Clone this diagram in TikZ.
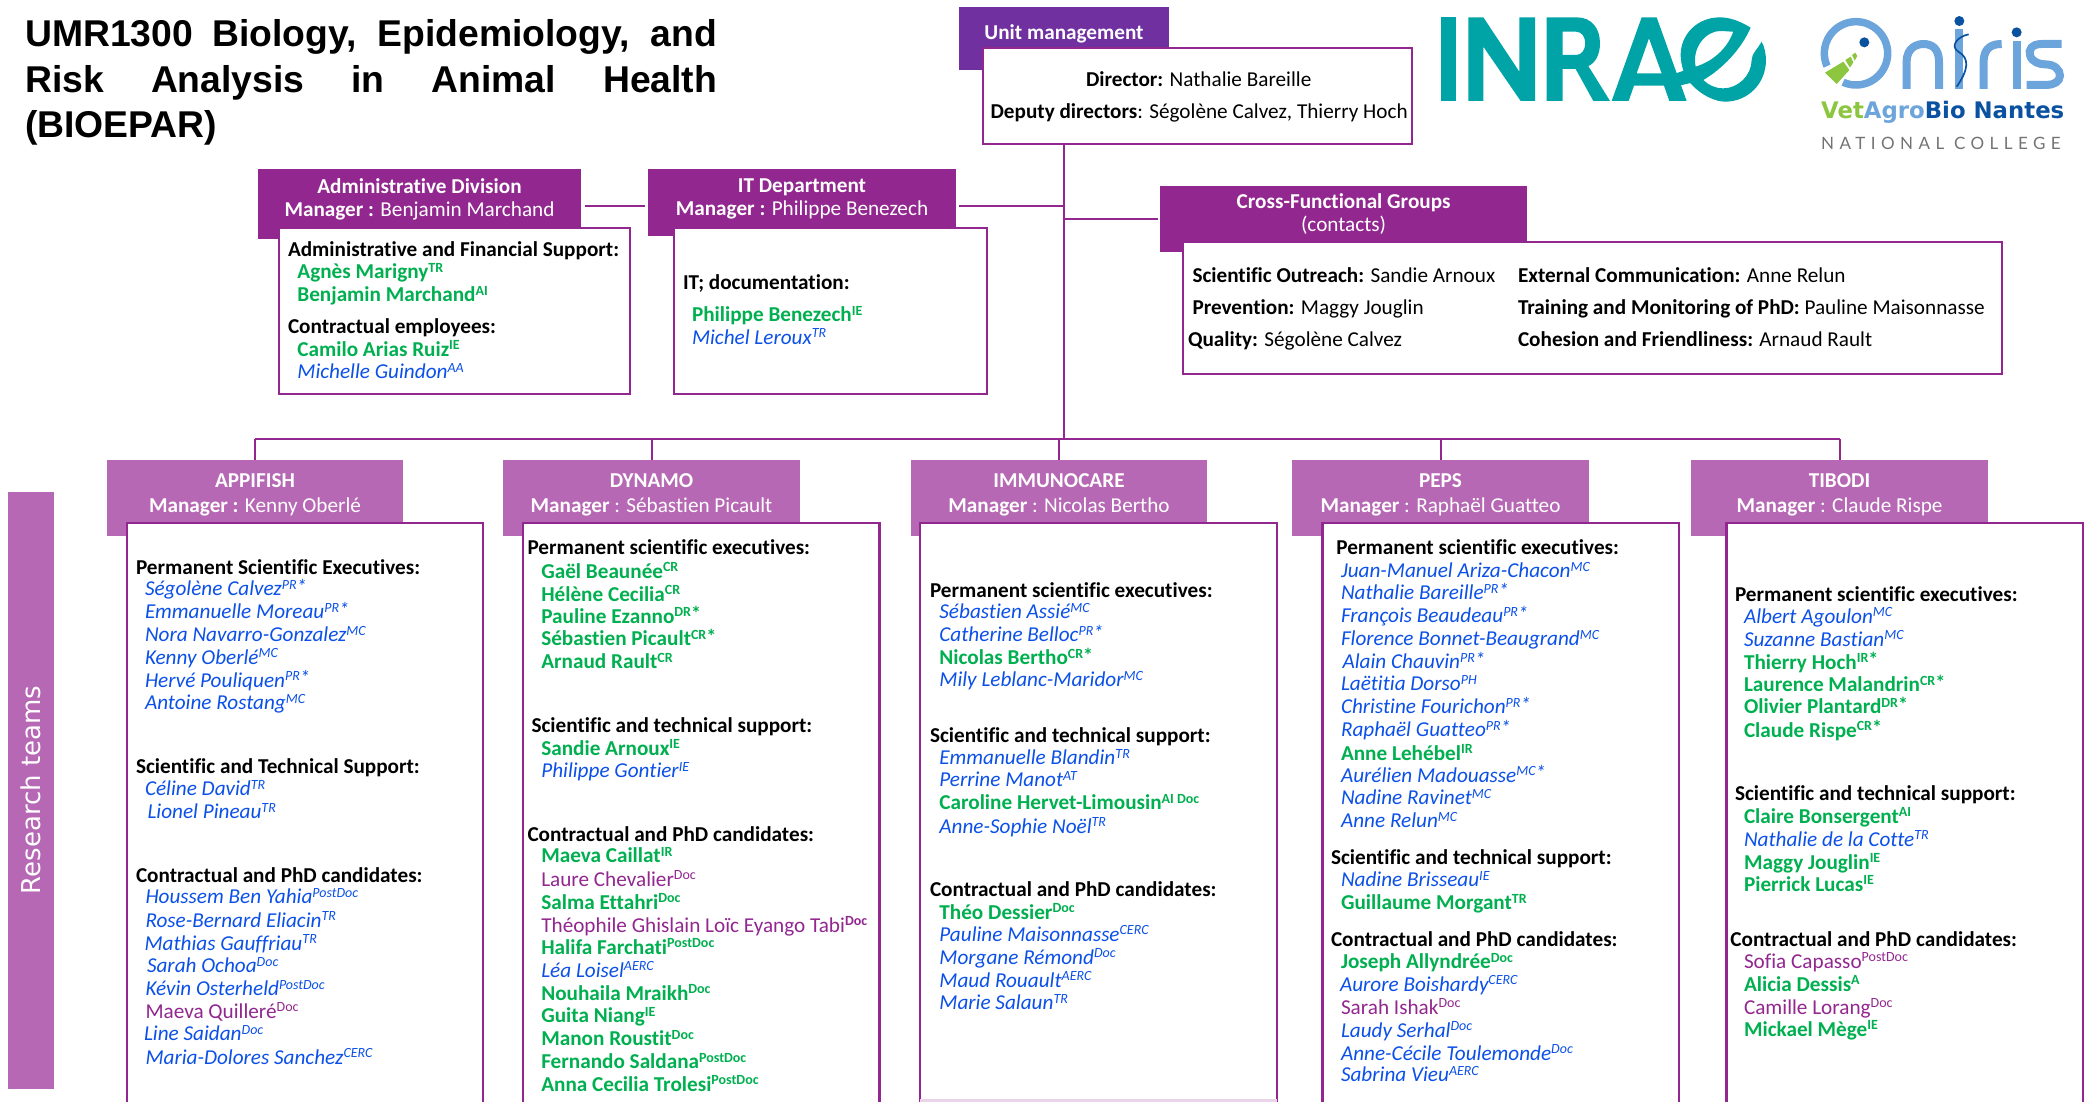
\documentclass[tikz,border=0pt]{standalone}
\usepackage{fontspec}
\setmainfont[Ligatures=NoCommon]{Carlito}
\newfontfamily\ttlfont{Liberation Sans}
\newfontfamily\rtfont{DejaVu Sans}
\newfontfamily\vabfont{DejaVu Sans}
\newfontfamily\natfont[LetterSpace=32]{Lato}
\definecolor{pdark}{HTML}{92278F}
\definecolor{plight}{HTML}{B768B5}
\definecolor{pum}{HTML}{7030A0}
\definecolor{gtext}{HTML}{00B050}
\definecolor{btext}{HTML}{0B50E8}
\definecolor{inrae}{HTML}{00A3A6}
\definecolor{onb}{HTML}{6CA4DC}
\definecolor{ond}{HTML}{0A52A0}
\definecolor{ong}{HTML}{8CC63F}
\newcounter{tn}
\newcommand\Sp[1]{\raisebox{.30em}[0pt][0pt]{\fontsize{14}{14}\selectfont #1}}
\newcommand\Str{\raisebox{-.28em}[0pt][0pt]{\fontsize{20}{20}\selectfont *}}
\newcommand\ti[4]{\stepcounter{tn}\node[#3] (t\arabic{tn}) at (#1,#2+0.8) {#4};}
\newcommand\hd[3]{\ti{#1}{#2}{bk}{#3}}
\newcommand\gn[4]{\ti{#1}{#2}{gr}{#3\Sp{#4}}}
\newcommand\bn[4]{\ti{#1}{#2}{bl}{#3\Sp{#4}}}
\newcommand\pn[4]{\ti{#1}{#2}{pu}{#3\Sp{#4}}}
\newcommand\bx[6]{\node[#1,anchor=north west,minimum width={(#5-#3)*1pt},minimum height={(#6-#4)*1pt}] (#2) at (#3,#4) {};}
\newcommand\hh[3]{\ti{#1}{#2}{wh}{#3}}
\tikzset{
 txt/.style={anchor=base west,inner sep=0pt,outer sep=0pt,font=\fontsize{21.2}{21.2}\selectfont},
 bk/.style={txt,font=\fontsize{21.2}{21.2}\selectfont\bfseries,text=black},
 plain/.style={txt,text=black},
 gr/.style={txt,font=\fontsize{21.2}{21.2}\selectfont\bfseries,text=gtext},
 bl/.style={txt,font=\fontsize{21.2}{21.2}\selectfont\itshape,text=btext},
 pu/.style={txt,text=pdark},
 wh/.style={anchor=base,inner sep=0pt,outer sep=0pt,font=\fontsize{21.2}{21.2}\selectfont,text=white},
 hbox/.style={fill=pdark,inner sep=0pt,outer sep=0pt},
 tbox/.style={fill=plight,inner sep=0pt,outer sep=0pt},
 cbox/.style={fill=white,draw=pdark,line width=2.5pt,inner sep=0pt,outer sep=0pt},
 conn/.style={draw=pdark,line width=2.5pt},
 drop/.style={draw=pdark,line width=2pt},
 ttl/.style={anchor=base west,inner sep=0pt,font=\fontsize{37.3}{37.3}\selectfont\ttlfont\bfseries},
}
\begin{document}
\begin{tikzpicture}[x=1pt,y=-1pt]
\useasboundingbox (0,0) rectangle (2089,1101);
% title
\ti{25}{46}{ttl}{\makebox[692pt][s]{UMR1300 Biology, Epidemiology, and}}
\ti{25}{91.7}{ttl}{\makebox[692pt][s]{Risk Analysis in Animal Health}}
\ti{25}{136.7}{ttl}{(BIOEPAR)}
% connector anchors
\coordinate (trunk) at (1064,439);
\coordinate (ja) at (1064,206);
\coordinate (jc) at (1064,219);
% upper boxes
\bx{fill=pum,inner sep=0pt,outer sep=0pt}{umh}{959}{7}{1169}{70}
\bx{cbox}{um}{983}{48}{1412}{144}
\bx{hbox}{adh}{258}{169}{581}{239}
\bx{cbox}{adb}{279}{228}{630}{394}
\bx{hbox}{ith}{648}{169}{956}{236}
\bx{cbox}{itb}{674}{228}{987}{394}
\bx{hbox}{crh}{1160}{186}{1526.5}{252}
\bx{cbox}{crb}{1183}{242}{2002}{374}
% team headers
\bx{tbox}{h1}{107}{460}{403}{536}
\bx{tbox}{h2}{503}{460}{800}{536}
\bx{tbox}{h3}{911}{460}{1207}{536}
\bx{tbox}{h4}{1292}{460}{1589}{536}
\bx{tbox}{h5}{1691}{460}{1988}{536}
\bx{cbox}{b1}{127}{523}{483}{1120}
\bx{cbox}{b2}{523}{523}{879.5}{1120}
\bx{cbox}{b3}{920}{523}{1277}{1120}
\bx{cbox}{b4}{1322.5}{523}{1679}{1120}
\bx{cbox}{b5}{1726.6}{523}{2083}{1120}
\draw[draw=pdark!20,line width=3pt] (b3.west |- 0,1100) -- (b3.east |- 0,1100);
% connectors
\draw[conn] (um.south -| trunk) -- (trunk);
\draw[conn] (h1.north |- trunk) -- (h5.north |- trunk);
\foreach \n in {h1,h2,h3,h4,h5}{\draw[drop] (\n.north) -- (\n.north |- trunk);}
\draw[conn] ([xshift=4pt]adh.east |- ja) -- ([xshift=-3pt]ith.west |- ja);
\draw[conn] ([xshift=3pt]ith.east |- ja) -- (ja);
\draw[conn] (jc) -- ([xshift=-2pt]crh.west |- jc);
% research teams
\bx{tbox}{rtbar}{8}{492}{54}{1089}
\node[rotate=90,inner sep=0pt,text=white,font=\fontsize{26}{26}\selectfont\rtfont] (rt) at (rtbar.center |- 0,790) {Research teams};
% headers
\hh{1064}{39}{\bfseries Unit management}
\hh{419.5}{193}{\bfseries Administrative Division}
\hh{419.5}{216}{\textbf{Manager :} Benjamin Marchand}
\hh{802}{192}{\bfseries IT Department}
\hh{802}{215}{\textbf{Manager :} Philippe Benezech}
\hh{1343.6}{207.5}{\bfseries Cross-Functional Groups}
\hh{1343.6}{231}{(contacts)}
\hh{255}{487}{\bfseries APPIFISH}
\hh{255}{512}{\textbf{Manager :} Kenny Oberlé}
\hh{651.5}{487}{\bfseries DYNAMO}
\hh{651.5}{512}{\textbf{Manager} : Sébastien Picault}
\hh{1059}{487}{\bfseries IMMUNOCARE}
\hh{1059}{512}{\textbf{Manager} : Nicolas Bertho}
\hh{1440.5}{487}{\bfseries PEPS}
\hh{1440.5}{512}{\textbf{Manager} : Raphaël Guatteo}
\hh{1839.5}{487}{\bfseries TIBODI}
\hh{1839.5}{512}{\textbf{Manager} : Claude Rispe}
% unit
\ti{1086}{86}{plain}{\textbf{Director:} Nathalie Bareille}
\ti{990.6}{118}{plain}{\textbf{Deputy directors}: Ségolène Calvez, Thierry Hoch}
% admin
\hd{288}{256}{Administrative and Financial Support:}
\gn{297.4}{278}{Agnès Marigny}{TR}
\gn{297.4}{301}{Benjamin Marchand}{AI}
\hd{288}{333}{Contractual employees:}
\gn{297.4}{355.5}{Camilo Arias Ruiz}{IE}
\bn{297.4}{378}{Michelle Guindon}{AA}
% IT
\hd{683}{289}{IT; documentation:}
\gn{692}{321}{Philippe Benezech}{IE}
\bn{692}{343.5}{Michel Leroux}{TR}
% cross
\ti{1192.5}{282}{plain}{\textbf{Scientific Outreach:} Sandie Arnoux}
\ti{1192.5}{314}{plain}{\textbf{Prevention:} Maggy Jouglin}
\ti{1188}{346}{plain}{\textbf{Quality:} Ségolène Calvez}
\ti{1518}{282}{plain}{\textbf{External Communication:} Anne Relun}
\ti{1518}{314}{plain}{\textbf{Training and Monitoring of PhD:} Pauline Maisonnasse}
\ti{1518}{346}{plain}{\textbf{Cohesion and Friendliness:} Arnaud Rault}
% APPIFISH
\hd{136}{573.3}{Permanent Scientific Executives:}
\bn{145}{595}{Ségolène Calvez}{PR\Str}
\bn{145}{618}{Emmanuelle Moreau}{PR\Str}
\bn{145}{641}{Nora Navarro-Gonzalez}{MC}
\bn{145}{663.5}{Kenny Oberlé}{MC}
\bn{145}{686.5}{Hervé Pouliquen}{PR\Str}
\bn{145}{709}{Antoine Rostang}{MC}
\hd{136}{772.3}{Scientific and Technical Support:}
\bn{145}{795}{Céline David}{TR}
\bn{147.5}{818}{Lionel Pineau}{TR}
\hd{136}{881.3}{Contractual and PhD candidates:}
\bn{145.5}{903}{Houssem Ben Yahia}{PostDoc}
\bn{145.5}{926.5}{Rose-Bernard Eliacin}{TR}
\bn{144.5}{949.5}{Mathias Gauffriau}{TR}
\bn{147}{972}{Sarah Ochoa}{Doc}
\bn{145.5}{994.7}{Kévin Osterheld}{PostDoc}
\pn{145.5}{1017.3}{Maeva Quilleré}{Doc}
\bn{144}{1040}{Line Saidan}{Doc}
\bn{145.5}{1063.5}{Maria-Dolores Sanchez}{CERC}
% DYNAMO
\hd{527.5}{554}{Permanent scientific executives:}
\gn{541.3}{577.2}{Gaël Beaunée}{CR}
\gn{541.3}{600.3}{Hélène Cecilia}{CR}
\gn{541.3}{622.5}{Pauline Ezanno}{DR\Str}
\gn{541.3}{645}{Sébastien Picault}{CR\Str}
\gn{541.3}{668}{Arnaud Rault}{CR}
\hd{531.6}{731.5}{Scientific and technical support:}
\gn{541.3}{754.5}{Sandie Arnoux}{IE}
\bn{541.3}{776.6}{Philippe Gontier}{IE}
\hd{527.5}{840.5}{Contractual and PhD candidates:}
\gn{541.3}{862}{Maeva Caillat}{IR}
\pn{541.3}{885.2}{Laure Chevalier}{Doc}
\gn{541.3}{908.2}{Salma Ettahri}{Doc}
\pn{541.3}{931.3}{Théophile Ghislain Loïc Eyango Tabi}{\bfseries Doc}
\gn{541.3}{953.4}{Halifa Farchati}{PostDoc}
\bn{541.3}{976.5}{Léa Loisel}{AERC}
\gn{541.3}{999.5}{Nouhaila Mraikh}{Doc}
\gn{541.3}{1022}{Guita Niang}{IE}
\gn{541.3}{1044.7}{Manon Roustit}{Doc}
\gn{541.3}{1067.7}{Fernando Saldana}{PostDoc}
\gn{541.3}{1090.3}{Anna Cecilia Trolesi}{PostDoc}
% IMMUNOCARE
\hd{930}{596.4}{Permanent scientific executives:}
\bn{939.4}{618}{Sébastien Assié}{MC}
\bn{939.4}{641}{Catherine Belloc}{PR\Str}
\gn{939.4}{664}{Nicolas Bertho}{CR\Str}
\bn{939.4}{686}{Mily Leblanc-Maridor}{MC}
\hd{930}{741.5}{Scientific and technical support:}
\bn{939.4}{764}{Emmanuelle Blandin}{TR}
\bn{939.4}{786}{Perrine Manot}{AT}
\gn{939.4}{809}{Caroline Hervet-Limousin}{AI Doc}
\bn{939.4}{832.2}{Anne-Sophie Noël}{TR}
\hd{930}{895.2}{Contractual and PhD candidates:}
\gn{939.4}{918.2}{Théo Dessier}{Doc}
\bn{939.4}{940.4}{Pauline Maisonnasse}{CERC}
\bn{939.4}{963.4}{Morgane Rémond}{Doc}
\bn{939.4}{986.4}{Maud Rouault}{AERC}
\bn{939.4}{1009}{Marie Salaun}{TR}
% PEPS
\hd{1336.4}{554}{Permanent scientific executives:}
\bn{1341}{577}{Juan-Manuel Ariza-Chacon}{MC}
\bn{1341}{599}{Nathalie Bareille}{PR\Str}
\bn{1341}{622}{François Beaudeau}{PR\Str}
\bn{1341}{645}{Florence Bonnet-Beaugrand}{MC}
\bn{1342.6}{668}{Alain Chauvin}{PR\Str}
\bn{1341}{690}{Laëtitia Dorso}{PH}
\bn{1341}{713}{Christine Fourichon}{PR\Str}
\bn{1341}{736}{Raphaël Guatteo}{PR\Str}
\gn{1341}{759.3}{Anne Lehébel}{IR}
\bn{1341}{781.4}{Aurélien Madouasse}{MC\Str}
\bn{1341}{804}{Nadine Ravinet}{MC}
\bn{1341}{827}{Anne Relun}{MC}
\hd{1331}{863.5}{Scientific and technical support:}
\bn{1341}{886}{Nadine Brisseau}{IE}
\gn{1341}{909}{Guillaume Morgant}{TR}
\hd{1331}{945.2}{Contractual and PhD candidates:}
\gn{1341}{968}{Joseph Allyndrée}{Doc}
\bn{1340}{990.4}{Aurore Boishardy}{CERC}
\pn{1341}{1013.4}{Sarah Ishak}{Doc}
\bn{1341}{1036.4}{Laudy Serhal}{Doc}
\bn{1341}{1059.4}{Anne-Cécile Toulemonde}{Doc}
\bn{1341}{1081}{Sabrina Vieu}{AERC}
% TIBODI
\hd{1735}{600.3}{Permanent scientific executives:}
\bn{1744}{622.5}{Albert Agoulon}{MC}
\bn{1744}{645.4}{Suzanne Bastian}{MC}
\gn{1744}{668.5}{Thierry Hoch}{IR\Str}
\gn{1744}{691}{Laurence Malandrin}{CR\Str}
\gn{1744}{713}{Olivier Plantard}{DR\Str}
\gn{1744}{736.2}{Claude Rispe}{CR\Str}
\hd{1735}{799.7}{Scientific and technical support:}
\gn{1744}{822.3}{Claire Bonsergent}{AI}
\bn{1744}{845.3}{Nathalie de la Cotte}{TR}
\gn{1744}{868.3}{Maggy Jouglin}{IE}
\gn{1744}{890.5}{Pierrick Lucas}{IE}
\hd{1730.4}{945.2}{Contractual and PhD candidates:}
\pn{1744}{967.3}{Sofia Capasso}{PostDoc}
\gn{1744}{990.4}{Alicia Dessis}{A}
\pn{1744}{1013.4}{Camille Lorang}{Doc}
\gn{1744}{1035.5}{Mickael Mège}{IE}
% INRAE logo
\begin{scope}[shift={(1430,5)},x=0.3333pt,y=-0.3333pt,fill=inrae]
\fill (33,37) rectangle (78,288);
\fill (115,37) -- (160,37) -- (268,200) -- (268,37) -- (315,37) -- (315,288) -- (272,288) -- (160,125) -- (160,288) -- (115,288) -- cycle;
\fill[even odd rule] (350,288) -- (350,37) -- (440,37) .. controls (485,37) and (510,70) .. (510,115) .. controls (510,150) and (495,175) .. (475,183) -- (540,288) -- (490,288) -- (437,192) -- (398,192) -- (398,288) -- cycle
 (398,80) -- (398,150) -- (438,150) .. controls (475,150) and (475,80) .. (438,80) -- cycle;
\fill[even odd rule] (545,288) -- (635,37) -- (680,37) -- (770,288) -- (718,288) -- (702,242) -- (612,242) -- (596,288) -- cycle
 (620,205) -- (695,205) -- (657,100) -- cycle;
\fill (738,205) -- (797,185) -- (820,225) -- (752,241) -- cycle;
\fill[even odd rule] (962,68) .. controls (925,45) and (895,37) .. (870,37) .. controls (800,37) and (752,90) .. (752,150) .. controls (752,180) and (765,215) .. (775,228) .. controls (815,275) and (860,290) .. (885,290) .. controls (955,290) and (1008,235) .. (1008,165) .. controls (1008,145) and (1003,125) .. (995,110) .. controls (985,130) and (965,145) .. (965,165) .. controls (965,210) and (925,250) .. (880,250) .. controls (855,250) and (835,240) .. (820,225) .. controls (880,190) and (935,130) .. (962,68) -- cycle
 (910,80) .. controls (890,135) and (845,170) .. (797,185) .. controls (785,125) and (830,78) .. (870,78) .. controls (885,78) and (900,80) .. (910,80) -- cycle;
\end{scope}
% Oniris logo
\begin{scope}[shift={(1810,5)},x=0.3333pt,y=-0.3333pt]
\draw[onb,line width=7.5pt] (138,145) circle[radius=95];
\fill[white] (138,145) -- (15,200) -- (25,280) -- (85,262) -- cycle;
\fill[ong] (45,203) -- (100,170) -- (118,195) -- (80,237) -- cycle;
\fill[ong] (106,165) -- (122,155) -- (130,172) -- (120,188) -- cycle;
\fill[ong] (126,150) -- (136,143) -- (142,153) -- (134,167) -- cycle;
\fill[ond] (163,112) circle[radius=15];
\draw[onb,line width=8pt] (290,252) -- (290,170) .. controls (290,125) and (325,117) .. (340,117) .. controls (365,117) and (387,130) .. (387,170) -- (387,252);
\draw[onb,line width=8pt] (448,72) -- (448,252);
\fill[ond] (448,48) circle[radius=15];
\draw[ond,line width=1.7pt] (476,88) .. controls (440,95) and (420,125) .. (445,140) .. controls (480,160) and (475,195) .. (440,245);
\draw[onb,line width=8pt] (521,252) -- (521,170) .. controls (521,125) and (550,117) .. (575,117);
\draw[onb,line width=8pt] (620,108) -- (620,252);
\fill[ond] (620,82) circle[radius=15];
\draw[onb,line width=8pt] (755,117) -- (695,117) .. controls (665,117) and (655,135) .. (660,150) .. controls (665,172) and (690,178) .. (705,178) .. controls (735,178) and (750,195) .. (750,212) .. controls (750,230) and (730,240) .. (710,240) -- (650,240);
\end{scope}
\node[anchor=base west,inner sep=0pt,font=\fontsize{22.8}{22.8}\selectfont\vabfont\bfseries] (vab) at (1821,118) {\textcolor{ong}{Vet}\textcolor{onb}{Agro}\textcolor{ond}{Bio Nantes}};
\node[anchor=base west,inner sep=0pt,text=black!55,font=\fontsize{17}{17}\selectfont\natfont] (nat) at (1821,149) {NATIONAL COLLEGE};
\end{tikzpicture}
\end{document}
